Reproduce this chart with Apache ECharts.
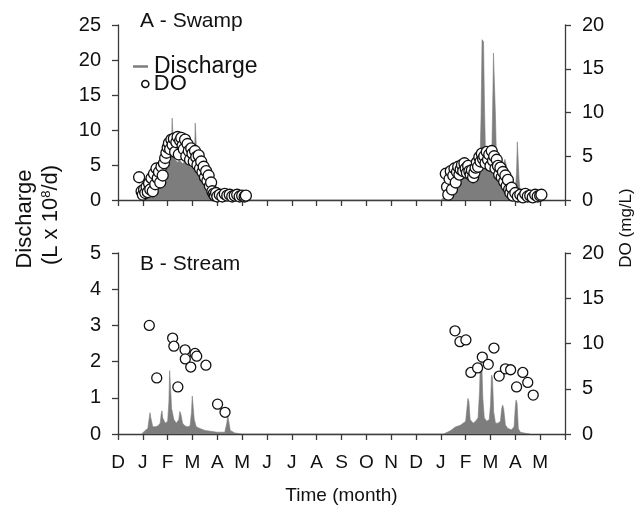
<!DOCTYPE html>
<html><head><meta charset="utf-8">
<script src="https://cdn.jsdelivr.net/npm/echarts/dist/echarts.min.js"></script>
<style>html,body{margin:0;padding:0;background:#fff}#c{width:638px;height:511px}</style>
</head><body><div id="c"></div>
<script>
// x = months since 1 December (0 = D, 1 = J, ... 12 = D, 13 = J ...)
const monthLabels = ['D','J','F','M','A','M','J','J','A','S','O','N','D','J','F','M','A','M'];
const leftTicksA = [0, 5, 10, 15, 20, 25];
const leftTicksB = [0, 1, 2, 3, 4, 5];
const doTicks = [0, 5, 10, 15, 20];

// Swamp discharge (L x 10^8/d)
const swampQ1 = [[0.9,0],[1.0,0.3],[1.2,0.8],[1.3,1.5],[1.4,1.2],[1.5,1.8],[1.6,2.2],[1.7,2.6],[1.8,3.2],[1.9,4.0],[2.0,4.8],[2.1,5.5],[2.15,6.5],[2.18,11.7],[2.22,11.7],[2.25,6.8],[2.3,5.8],[2.4,5.4],[2.5,5.6],[2.6,5.2],[2.7,5.5],[2.8,5.0],[2.9,4.8],[3.0,5.2],[3.08,6.0],[3.11,11.0],[3.15,11.0],[3.18,5.8],[3.3,4.5],[3.4,3.8],[3.5,3.0],[3.6,2.4],[3.7,1.5],[3.8,0.8],[3.9,0.3],[4.0,0.15],[4.5,0.05],[5.0,0]];
const swampQ2 = [[13.0,0],[13.1,0.3],[13.2,0.8],[13.3,1.2],[13.4,1.6],[13.5,2.0],[13.6,2.3],[13.7,2.6],[13.8,2.8],[13.9,3.0],[14.0,3.2],[14.1,3.4],[14.2,3.5],[14.3,3.8],[14.4,4.2],[14.5,4.8],[14.58,6.0],[14.62,12],[14.66,22.9],[14.72,22.6],[14.76,13],[14.8,6.5],[14.9,5.0],[15.0,5.2],[15.06,8],[15.1,16],[15.12,21.0],[15.17,20.8],[15.2,12],[15.24,6],[15.3,5.0],[15.4,4.6],[15.5,5.0],[15.58,5.8],[15.62,5.8],[15.7,4.0],[15.8,3.0],[15.9,2.0],[16.0,1.5],[16.05,4],[16.08,8.3],[16.12,8.2],[16.15,3],[16.2,1.0],[16.3,0.4],[16.5,0.1],[17.0,0]];

// Swamp DO (mg/L)
const swampDO1 = [[0.85,2.6],[0.95,1.0],[1.0,0.6],[1.05,1.2],[1.1,0.8],[1.15,1.5],[1.2,0.9],[1.25,1.9],[1.3,1.2],[1.35,2.5],[1.4,1.0],[1.45,3.0],[1.5,1.8],[1.55,3.6],[1.6,2.5],[1.65,3.2],[1.7,2.0],[1.75,3.8],[1.8,2.8],[1.85,4.2],[1.9,4.8],[1.95,5.4],[2.0,6.0],[2.05,6.5],[2.1,5.8],[2.15,6.9],[2.2,6.3],[2.25,7.0],[2.3,5.5],[2.35,6.6],[2.4,7.2],[2.45,5.2],[2.5,6.8],[2.55,7.1],[2.6,6.2],[2.65,5.8],[2.7,6.9],[2.75,5.0],[2.8,6.4],[2.85,5.6],[2.9,4.6],[2.95,5.9],[3.0,5.3],[3.05,4.4],[3.1,5.6],[3.15,4.9],[3.2,4.0],[3.25,5.1],[3.3,3.6],[3.35,4.4],[3.4,3.2],[3.45,3.8],[3.5,2.6],[3.55,3.3],[3.6,2.2],[3.65,2.8],[3.7,1.6],[3.75,2.0],[3.8,1.0],[3.85,0.7],[3.9,0.5],[3.95,0.8],[4.0,0.4],[4.1,0.6],[4.2,0.4],[4.3,0.7],[4.4,0.5],[4.5,0.6],[4.6,0.4],[4.7,0.5],[4.8,0.6],[4.9,0.4],[5.0,0.5],[5.1,0.4],[5.15,0.5]];
const swampDO2 = [[13.2,3.0],[13.25,1.5],[13.3,0.6],[13.35,2.4],[13.4,3.3],[13.45,1.2],[13.5,2.8],[13.55,3.6],[13.6,2.0],[13.65,3.2],[13.7,3.8],[13.75,2.9],[13.8,3.5],[13.85,4.0],[13.9,3.3],[13.95,4.2],[14.0,3.6],[14.05,3.1],[14.1,3.9],[14.15,3.3],[14.2,2.9],[14.25,3.4],[14.3,2.6],[14.35,3.1],[14.4,3.7],[14.45,4.3],[14.5,3.8],[14.55,4.9],[14.6,4.4],[14.65,5.3],[14.7,4.7],[14.75,5.0],[14.8,4.2],[14.85,5.5],[14.9,4.6],[14.95,5.2],[15.0,3.9],[15.05,5.6],[15.1,4.5],[15.15,5.0],[15.2,3.6],[15.25,4.6],[15.3,3.9],[15.35,2.9],[15.4,3.7],[15.45,2.6],[15.5,3.2],[15.55,2.1],[15.6,2.8],[15.65,1.6],[15.7,2.3],[15.75,1.2],[15.8,0.8],[15.85,1.4],[15.9,0.5],[16.0,0.8],[16.1,0.4],[16.2,0.6],[16.3,0.3],[16.4,0.7],[16.5,0.4],[16.6,0.5],[16.7,0.3],[16.8,0.6],[16.9,0.4],[17.0,0.5],[17.05,0.6]];

// Stream discharge (L x 10^8/d)
const streamQ1 = [[0.95,0],[1.0,0.05],[1.1,0.1],[1.2,0.15],[1.26,0.45],[1.29,0.59],[1.32,0.45],[1.4,0.2],[1.5,0.2],[1.6,0.22],[1.7,0.3],[1.74,0.55],[1.77,0.64],[1.8,0.45],[1.9,0.3],[2.0,0.35],[2.05,0.9],[2.08,1.75],[2.12,1.7],[2.16,0.7],[2.25,0.4],[2.35,0.3],[2.45,0.4],[2.49,0.62],[2.53,0.55],[2.6,0.3],[2.7,0.22],[2.8,0.2],[2.9,0.22],[2.96,0.6],[2.99,1.05],[3.03,1.0],[3.07,0.4],[3.15,0.2],[3.3,0.15],[3.5,0.1],[3.8,0.07],[4.0,0.05],[4.3,0.05],[4.38,0.3],[4.42,0.52],[4.47,0.5],[4.52,0.1],[4.7,0.03],[5.0,0]];
const streamQ2 = [[13.1,0],[13.2,0.03],[13.3,0.06],[13.4,0.1],[13.5,0.15],[13.6,0.2],[13.7,0.22],[13.8,0.25],[13.9,0.3],[14.0,0.35],[14.05,0.7],[14.09,0.98],[14.13,0.9],[14.18,0.4],[14.3,0.3],[14.4,0.35],[14.5,0.45],[14.56,1.2],[14.6,2.27],[14.64,2.2],[14.69,1.0],[14.75,0.45],[14.85,0.35],[14.95,0.4],[15.0,0.8],[15.04,1.63],[15.08,1.55],[15.13,0.6],[15.2,0.3],[15.3,0.3],[15.4,0.35],[15.45,0.7],[15.49,0.8],[15.53,0.7],[15.6,0.25],[15.7,0.15],[15.85,0.12],[15.95,0.2],[16.0,0.75],[16.03,0.94],[16.07,0.85],[16.12,0.15],[16.2,0.05],[16.4,0.02],[16.6,0]];

// Stream DO (mg/L)
const streamDO1 = [[1.26,12.0],[1.56,6.2],[2.2,10.6],[2.25,9.7],[2.41,5.2],[2.7,9.3],[2.71,8.3],[2.93,7.4],[3.1,8.9],[3.17,8.6],[3.54,7.6],[4.01,3.3],[4.31,2.4]];
const streamDO2 = [[13.57,11.4],[13.77,10.2],[14.01,10.4],[14.21,6.8],[14.48,7.3],[14.67,8.5],[14.91,7.7],[15.14,9.5],[15.35,6.4],[15.6,7.2],[15.81,7.1],[16.05,5.2],[16.3,6.8],[16.5,5.7],[16.72,4.3]];

const FONT = 'Liberation Sans, Arial, sans-serif';
const AX = '#3a3a3a';
const GRAY = '#7d7d7d';
const INK = '#111';

function xAx(grid, showLabels) {
  return {
    type: 'value', gridIndex: grid, min: 0, max: 18, interval: 1,
    axisLine: {onZero: false, lineStyle: {color: AX, width: 1.3}},
    axisTick: {show: true, length: 6, lineStyle: {color: AX, width: 1.3}},
    splitLine: {show: false},
    axisLabel: {show: showLabels, fontSize: 19, color: INK, margin: 19, fontFamily: FONT,
      formatter: v => (monthLabels[v] !== undefined ? monthLabels[v] : '')},
    name: showLabels ? 'Time (month)' : '', nameLocation: 'middle', nameGap: 52,
    nameTextStyle: {fontSize: 19, color: INK, fontFamily: FONT}
  };
}
function yAx(grid, pos, ticks) {
  return {
    type: 'value', gridIndex: grid, position: pos,
    min: ticks[0], max: ticks[ticks.length - 1], interval: ticks[1] - ticks[0],
    axisLine: {show: true, lineStyle: {color: AX, width: 1.3}},
    axisTick: {show: true, length: 6, lineStyle: {color: AX, width: 1.3}},
    splitLine: {show: false},
    axisLabel: {fontSize: 20, color: INK, margin: 17, fontFamily: FONT}
  };
}
function qSeries(xi, yi, data) {
  return {type: 'line', name: 'Discharge', xAxisIndex: xi, yAxisIndex: yi, data: data,
    showSymbol: false, symbol: 'none', z: 1,
    itemStyle: {color: GRAY},
    lineStyle: {color: GRAY, width: 0.6}, areaStyle: {color: GRAY, opacity: 1}};
}
function doSeries(xi, yi, data, size) {
  return {type: 'scatter', name: 'DO', xAxisIndex: xi, yAxisIndex: yi, data: data,
    symbolSize: size, z: 3,
    itemStyle: {color: '#fff', borderColor: INK, borderWidth: 1.3, opacity: 1}};
}

const chart = echarts.init(document.getElementById('c'));
chart.setOption({
  animation: false,
  backgroundColor: '#fff',
  textStyle: {fontFamily: FONT},
  title: [
    {text: 'A - Swamp', left: 140, top: 11, padding: 0, textStyle: {fontSize: 21, fontWeight: 'normal', color: INK, fontFamily: FONT}},
    {text: 'B - Stream', left: 140, top: 254, padding: 0, textStyle: {fontSize: 21, fontWeight: 'normal', color: INK, fontFamily: FONT}}
  ],
  legend: [
    {data: [{name: 'Discharge', icon: 'rect'}], left: 133, top: 55, padding: 0, itemWidth: 15, itemHeight: 2.5,
      selectedMode: false, textStyle: {fontSize: 23, color: INK, fontFamily: FONT, padding: [0, 0, 0, 1]}},
    {data: [{name: 'DO', icon: 'circle'}], left: 141, top: 73, padding: 0, itemWidth: 7, itemHeight: 7,
      selectedMode: false, itemStyle: {color: '#fff', borderColor: INK, borderWidth: 1.6},
      textStyle: {fontSize: 22, color: INK, fontFamily: FONT}}
  ],
  grid: [
    {left: 118, top: 25, width: 447, height: 175},
    {left: 118, top: 253, width: 447, height: 181}
  ],
  xAxis: [xAx(0, false), xAx(1, true)],
  yAxis: [yAx(0, 'left', leftTicksA), yAx(0, 'right', doTicks), yAx(1, 'left', leftTicksB), yAx(1, 'right', doTicks)],
  series: [
    qSeries(0, 0, swampQ1.concat(swampQ2)),
    doSeries(0, 1, swampDO1.concat(swampDO2), 11),
    qSeries(1, 2, streamQ1.concat(streamQ2)),
    doSeries(1, 3, streamDO1.concat(streamDO2), 10)
  ],
  graphic: [
    {type: 'text', x: 25, y: 219, rotation: Math.PI / 2,
      style: {text: 'Discharge', fontSize: 22, fontFamily: FONT, fill: INK, align: 'center', verticalAlign: 'middle'}},
    {type: 'text', x: 51, y: 215, rotation: Math.PI / 2,
      style: {text: '{a|(L x 10}{b|8}{a|/d)}', fill: INK, align: 'center', verticalAlign: 'middle',
        rich: {a: {fontSize: 22, fontFamily: FONT, fill: INK}, b: {fontSize: 13, fontFamily: FONT, fill: INK, padding: [0, 0, 10, 0]}}}},
    {type: 'text', x: 626, y: 228, rotation: Math.PI / 2,
      style: {text: 'DO (mg/L)', fontSize: 17, fontFamily: FONT, fill: INK, align: 'center', verticalAlign: 'middle'}}
  ]
});
</script></body></html>
